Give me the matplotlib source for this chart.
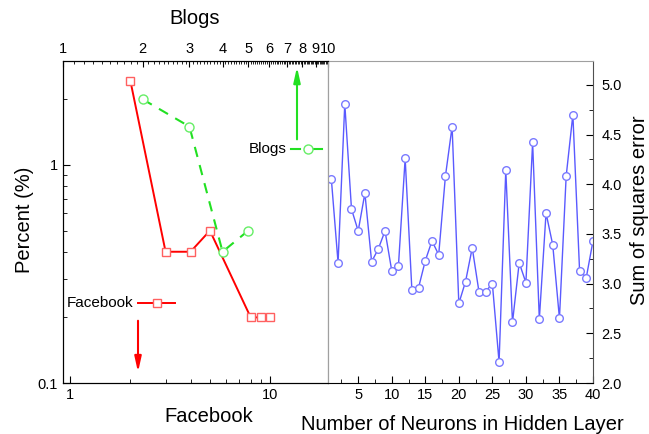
import numpy as np
import matplotlib
matplotlib.use("Agg")
import matplotlib.pyplot as plt
from matplotlib.ticker import FixedLocator, NullFormatter, LogLocator, MultipleLocator

plt.rcParams["font.family"] = ["Liberation Sans", "DejaVu Sans"]

# left panel: percent vs rank (log-log)
fb_x = [2, 3, 4, 5, 8, 9, 10]
fb_y = [2.43, 0.40, 0.40, 0.50, 0.20, 0.20, 0.20]
blog_x = [2, 3, 4, 5]
blog_y = [2.0, 1.5, 0.40, 0.50]
top_ticks = [1, 2, 3, 4, 5, 6, 7, 8, 9, 10]

# right panel: SSE vs hidden neurons
neurons = np.arange(1, 41)
sse = [4.05, 3.21, 4.81, 3.75, 3.53, 3.91, 3.22, 3.35, 3.53, 3.13,
       3.18, 4.26, 2.94, 2.96, 3.23, 3.43, 3.29, 4.08, 4.58, 2.80,
       3.02, 3.36, 2.92, 2.92, 3.00, 2.21, 4.14, 2.61, 3.21, 3.01,
       4.42, 2.64, 3.71, 3.39, 2.65, 4.08, 4.70, 3.13, 3.06, 3.43]

RED, GREEN, BLUE = "#ff0000", "#22e022", "#5a5aff"
GRAY = "#a0a0a0"
TS = 10.5
LS = 14.5

fig = plt.figure(figsize=(6.49, 4.34), dpi=100)
ax1 = fig.add_axes([0.0971, 0.1175, 0.4083, 0.742])
ax2 = fig.add_axes([0.5054, 0.1175, 0.4083, 0.742])

# ---- left panel
ax1.plot(fb_x, fb_y, "-", color=RED, lw=1.4, marker="s", ms=6, mfc="white",
         mec="#ff6060", mew=1.0)
ax1.set_xscale("log"); ax1.set_yscale("log")
ax1.set_xlim(0.92, 19.5); ax1.set_ylim(0.1, 3.0)
ax1.xaxis.set_major_locator(FixedLocator([1, 10]))
ax1.set_xticklabels(["1", "10"])
ax1.xaxis.set_minor_locator(LogLocator(base=10, subs=np.arange(2, 10)))
ax1.xaxis.set_minor_formatter(NullFormatter())
ax1.yaxis.set_major_locator(FixedLocator([0.1, 1]))
ax1.set_yticklabels(["0.1", "1"])
ax1.yaxis.set_minor_locator(LogLocator(base=10, subs=np.arange(2, 10)))
ax1.yaxis.set_minor_formatter(NullFormatter())
ax1.tick_params(which="both", direction="in", labelsize=TS, top=False, right=False)
ax1.tick_params(which="major", length=5)
ax1.tick_params(which="minor", length=3)
ax1.spines["right"].set_color(GRAY)

axt = ax1.twiny()
axt.set_xscale("log")
axt.set_xlim(1, 10)
axt.plot(blog_x, blog_y, "--", color=GREEN, lw=1.5, dashes=(5, 4), marker="o", ms=6.5,
         mfc="white", mec="#66ee66", mew=1.0)
axt.xaxis.set_major_locator(FixedLocator(top_ticks))
axt.set_xticklabels([str(t) for t in top_ticks])
minor = [v for v in np.round(np.arange(1.1, 10.0, 0.1), 1) if v not in top_ticks]
axt.xaxis.set_minor_locator(FixedLocator(minor))
axt.xaxis.set_minor_formatter(NullFormatter())
axt.tick_params(which="both", direction="in", labelsize=TS)
axt.tick_params(which="major", length=4)
axt.tick_params(which="minor", length=2)
axt.spines["right"].set_color(GRAY)

# legend-like labels with arrows
ax1.text(0.264, 0.248, "Facebook", transform=ax1.transAxes, ha="right", va="center", fontsize=11)
ax1.plot([0.283, 0.423], [0.248, 0.248], "-", color=RED, lw=1.4, transform=ax1.transAxes)
ax1.plot([0.355], [0.248], "s", ms=6, mfc="white", mec="#ff6060", mew=1.0, transform=ax1.transAxes)
ax1.annotate("", xy=(0.283, 0.025), xytext=(0.283, 0.202), xycoords="axes fraction",
             arrowprops=dict(arrowstyle="-|>,head_length=0.9,head_width=0.2", color=RED, lw=1.5))
ax1.text(0.845, 0.727, "Blogs", transform=ax1.transAxes, ha="right", va="center", fontsize=11)
ax1.plot([0.860, 0.895], [0.727, 0.727], "-", color=GREEN, lw=1.5, transform=ax1.transAxes)
ax1.plot([0.945, 0.977], [0.727, 0.727], "-", color=GREEN, lw=1.5, transform=ax1.transAxes)
ax1.plot([0.925], [0.727], "o", ms=6.5, mfc="white", mec="#66ee66", mew=1.0, transform=ax1.transAxes)
ax1.annotate("", xy=(0.883, 0.99), xytext=(0.883, 0.748), xycoords="axes fraction",
             arrowprops=dict(arrowstyle="-|>,head_length=0.9,head_width=0.2", color=GREEN, lw=1.5))

# ---- right panel
ax2.plot(neurons, sse, "-", color=BLUE, lw=1.0, marker="o", ms=5.5, mfc="white",
         mec="#7a7aff", mew=1.0)
ax2.set_xlim(0.5, 40); ax2.set_ylim(2.0, 5.24)
ax2.xaxis.set_major_locator(FixedLocator([5, 10, 15, 20, 25, 30, 35, 40]))
ax2.xaxis.set_minor_locator(MultipleLocator(2.5))
ax2.yaxis.set_major_locator(MultipleLocator(0.5))
ax2.yaxis.set_minor_locator(MultipleLocator(0.25))
ax2.yaxis.set_major_formatter(matplotlib.ticker.FormatStrFormatter("%.1f"))
ax2.yaxis.tick_right()
ax2.tick_params(which="both", direction="in", labelsize=TS, left=False, top=False)
ax2.tick_params(which="major", length=5)
ax2.tick_params(which="minor", length=3)
ax2.tick_params(axis="y", pad=6)
ax2.spines["left"].set_color(GRAY)
ax2.spines["top"].set_color(GRAY)
ax2.spines["right"].set_color("#505050")

# axis titles
fig.text(0.300, 0.958, "Blogs", ha="center", va="center", fontsize=LS)
fig.text(0.322, 0.040, "Facebook", ha="center", va="center", fontsize=LS)
fig.text(0.038, 0.493, "Percent (%)", ha="center", va="center", rotation=90, fontsize=LS)
fig.text(0.712, 0.022, "Number of Neurons in Hidden Layer", ha="center", va="center", fontsize=LS)
fig.text(0.985, 0.516, "Sum of squares error", ha="center", va="center", rotation=90, fontsize=LS)

fig.savefig("out.png", dpi=100)
